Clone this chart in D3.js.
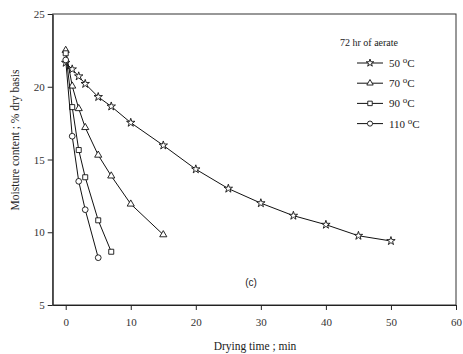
<!DOCTYPE html>
<html><head><meta charset="utf-8">
<script src="https://cdn.jsdelivr.net/npm/d3@7"></script>
<style>body{margin:0;background:#fff}svg{display:block}</style>
</head><body>
<svg id="c" width="463" height="354"></svg>
<script>
const xTicks = [0, 10, 20, 30, 40, 50, 60];
const yTicks = [5, 10, 15, 20, 25];
const legendTitle = "72 hr of aerate";
const seriesNames = ["50", "70", "90", "110"];
const t50 = [0, 1, 2, 3, 5, 7, 10, 15, 20, 25, 30, 35, 40, 45, 50];
const m50 = [21.65, 21.2, 20.72, 20.2, 19.3, 18.65, 17.53, 15.97, 14.33, 13.0, 12.0, 11.14, 10.52, 9.76, 9.4];
const t70 = [0, 1, 2, 3, 5, 7, 10, 15];
const m70 = [22.5, 20.05, 18.5, 17.2, 15.3, 13.87, 11.94, 9.83];
const t90 = [0, 1, 2, 3, 5, 7];
const m90 = [22.3, 18.6, 15.65, 13.78, 10.82, 8.66];
const t110 = [0, 1, 2, 3, 5];
const m110 = [21.84, 16.6, 13.5, 11.55, 8.25];

const series = [
  {name: seriesNames[0], t: t50, m: m50, sym: d3.symbolStar, size: 22},
  {name: seriesNames[1], t: t70, m: m70, sym: d3.symbolTriangle, size: 22},
  {name: seriesNames[2], t: t90, m: m90, sym: d3.symbolSquare, size: 25},
  {name: seriesNames[3], t: t110, m: m110, sym: d3.symbolCircle, size: 26}
];

const svg = d3.select("#c");
const L = 52.7, R = 456, T = 14, B = 305;
const x = d3.scaleLinear().domain([-2, 60]).range([L, R]);
const y = d3.scaleLinear().domain([5, 25]).range([B, T]);
const serif = "'Liberation Serif','Times New Roman',serif";

// frame
svg.append("rect").attr("x", L).attr("y", T).attr("width", R - L).attr("height", B - T)
  .attr("fill", "none").attr("stroke", "#333").attr("stroke-width", 1);

const xAxis = svg.append("g").attr("transform", `translate(0,${B})`)
  .call(d3.axisBottom(x).tickValues(xTicks).tickSize(5).tickSizeOuter(0).tickPadding(8));
const yAxis = svg.append("g").attr("transform", `translate(${L},0)`)
  .call(d3.axisLeft(y).tickValues(yTicks).tickSize(5).tickSizeOuter(0).tickPadding(3));
[xAxis, yAxis].forEach(g => {
  g.select(".domain").attr("stroke", "#222");
  g.selectAll(".tick line").attr("stroke", "#222");
  g.selectAll("text").attr("font-family", serif).attr("font-size", 11).attr("fill", "#333");
});

const line = d3.line().x(d => x(d[0])).y(d => y(d[1]));
series.forEach(s => {
  const pts = s.t.map((t, i) => [t, s.m[i]]);
  svg.append("path").datum(pts).attr("d", line)
    .attr("fill", "none").attr("stroke", "#111").attr("stroke-width", 1);
  svg.append("g").selectAll("path").data(pts).join("path")
    .attr("transform", d => `translate(${x(d[0])},${y(d[1])})`)
    .attr("d", d3.symbol().type(s.sym).size(s.size))
    .attr("fill", "#fff").attr("stroke", "#111").attr("stroke-width", 0.9);
});

// legend
svg.append("text").attr("x", 340).attr("y", 46).attr("font-family", serif)
  .attr("font-size", 10).attr("fill", "#222").text(legendTitle);
series.forEach((s, i) => {
  const ly = 63 + i * 20.2;
  svg.append("line").attr("x1", 357).attr("x2", 383).attr("y1", ly).attr("y2", ly)
    .attr("stroke", "#111").attr("stroke-width", 1);
  svg.append("path").attr("transform", `translate(370,${ly})`)
    .attr("d", d3.symbol().type(s.sym).size(s.size * 0.8))
    .attr("fill", "#fff").attr("stroke", "#111").attr("stroke-width", 0.9);
  const tx = svg.append("text").attr("x", 389).attr("y", ly + 4).attr("font-family", serif)
    .attr("font-size", 11).attr("fill", "#222");
  tx.append("tspan").text(s.name + " ");
  tx.append("tspan").attr("dy", -4).attr("font-size", 9).text("o");
  tx.append("tspan").attr("dy", 4).text("C");
});

// panel label
svg.append("text").attr("x", 251).attr("y", 286).attr("text-anchor", "middle")
  .attr("font-family", "'Liberation Sans',Arial,sans-serif").attr("font-size", 10)
  .attr("fill", "#222").text("(c)");

// axis titles
svg.append("text").attr("x", 255).attr("y", 350).attr("text-anchor", "middle")
  .attr("font-family", serif).attr("font-size", 11.5).attr("fill", "#222").text("Drying time ; min");
svg.append("text").attr("transform", "translate(19,140) rotate(-90)").attr("text-anchor", "middle")
  .attr("font-family", serif).attr("font-size", 11.5).attr("fill", "#222")
  .text("Moisture content ; % dry basis");
</script>
</body></html>
